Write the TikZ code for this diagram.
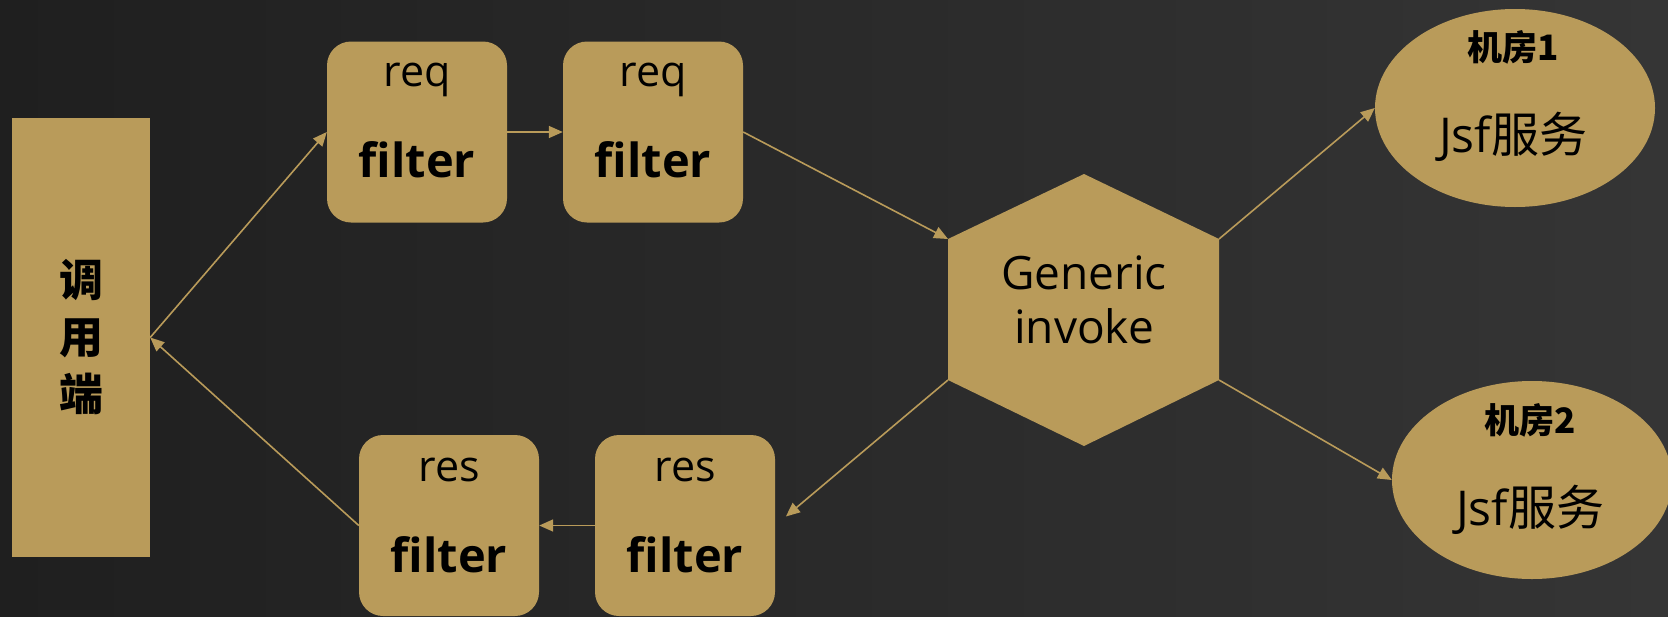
\documentclass[tikz,border=0pt]{standalone}
\usepackage{fontspec}
\setmainfont{Open Sans}
\newfontfamily\cjk{Noto Sans CJK SC}
\usetikzlibrary{arrows.meta,shapes.geometric}
\definecolor{gold}{HTML}{B99B5A}
\definecolor{bgA}{HTML}{1F1F1F}
\definecolor{bgB}{HTML}{353535}
\begin{document}
\begin{tikzpicture}[x=1pt,y=-1pt,
  goldbox/.style={fill=gold, draw=none, minimum width=180pt, minimum height=181pt, rounded corners=24pt, inner sep=0pt},
  goldell/.style={ellipse, fill=gold, draw=none, minimum width=280pt, minimum height=198pt, inner sep=0pt},
  conn/.style={draw=gold, line width=1.6pt, -{Triangle[length=14pt,width=12pt]}},
  reqtxt/.style={font=\fontsize{43}{43}\selectfont, text=black, inner sep=0pt},
  filttxt/.style={font=\fontsize{47}{47}\selectfont\bfseries, text=black, inner sep=0pt},
  roomtxt/.style={font=\cjk\fontsize{35}{35}\selectfont\bfseries, text=black, inner sep=0pt},
  svctxt/.style={font=\fontsize{48}{48}\selectfont, text=black, inner sep=0pt},
]
\useasboundingbox (0,0) rectangle (1668,616);
\shade[left color=bgA, right color=bgB] (0,0) rectangle (1668,616);

% caller
\node[fill=gold, minimum width=138pt, minimum height=439pt, inner sep=0pt, align=center,
      font=\cjk\fontsize{44}{57}\selectfont\bfseries, text=black] (caller) at (81,337.5) {调\\用\\端};

% req filters
\node[goldbox] (req1) at (417,132) {};
\node[reqtxt] (req1a) at (417,80) {req};
\node[filttxt] (req1b) at (417,160) {filter};
\node[goldbox] (req2) at (653,132) {};
\node[reqtxt] (req2a) at (653,80) {req};
\node[filttxt] (req2b) at (653,160) {filter};

% res filters
\node[goldbox] (res1) at (449,525.5) {};
\node[reqtxt] (res1a) at (449,470) {res};
\node[filttxt] (res1b) at (449,555) {filter};
\node[goldbox] (res2) at (685,525.5) {};
\node[reqtxt] (res2a) at (685,470) {res};
\node[filttxt] (res2b) at (685,555) {filter};

% hexagon
\fill[gold] (1084,174) -- (1219,239) -- (1219,380) -- (1084,446) -- (948,380) -- (948,239) -- cycle;
\coordinate (hUL) at (948,239);
\coordinate (hUR) at (1219,239);
\coordinate (hLR) at (1219,380);
\coordinate (hLL) at (948,380);
\node[align=center, font=\fontsize{46}{54}\selectfont, text=black, inner sep=0pt] (hex) at (1084,300) {Generic\\invoke};

% ellipses
\node[goldell] (e1) at (1515,108) {};
\node[roomtxt] (e1a) at (1513,47) {机房1};
\node[svctxt] (e1b) at (1513,137) {Jsf{\cjk 服务}};
\node[goldell] (e2) at (1532,480) {};
\node[roomtxt] (e2a) at (1530,420) {机房2};
\node[svctxt] (e2b) at (1530,510) {Jsf{\cjk 服务}};

% connectors
\draw[conn] (caller.east) -- (req1.west);
\draw[conn] (req1.east) -- (req2.west);
\draw[conn] (req2.east) -- (hUL);
\draw[conn] (hUR) -- (e1.west);
\draw[conn] (hLR) -- (e2.west);
\draw[conn, shorten >=14pt] (hLL) -- (res2.east);
\draw[conn] (res2.west) -- (res1.east);
\draw[conn] (res1.west) -- (caller.east);
\end{tikzpicture}
\end{document}
